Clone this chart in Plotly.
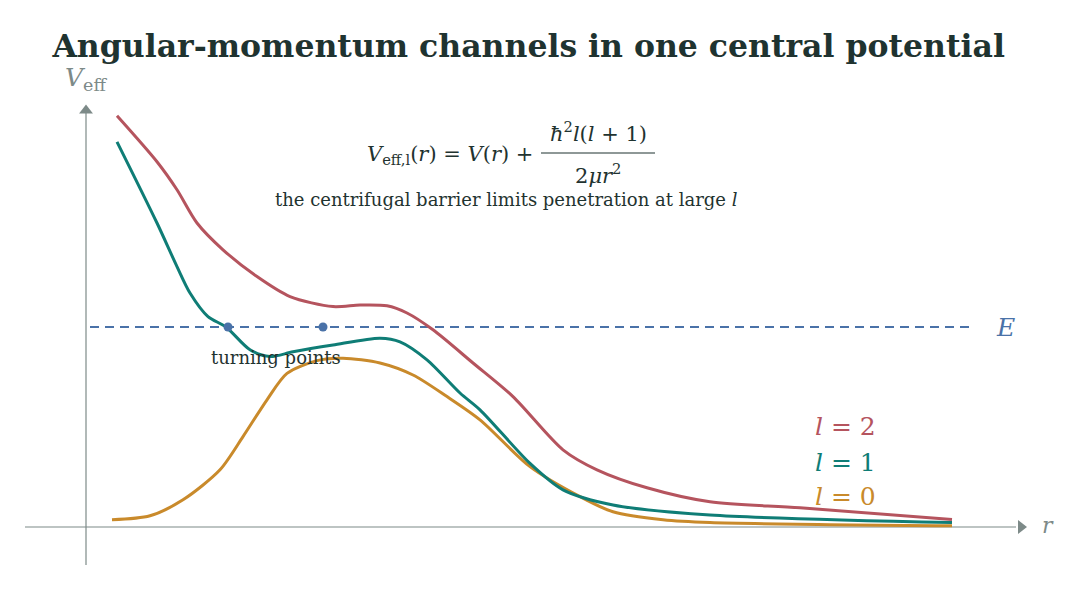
import plotly.graph_objects as go

# ---------------- data ----------------
r_l2 = [0.31, 0.71, 0.91, 1.11, 1.37, 1.71, 2.04, 2.47, 2.74, 3.01, 3.21, 3.47, 3.87, 4.27, 4.77, 5.11, 5.61, 6.24, 7.14, 8.66]
V_l2 = [10.28, 9.13, 8.43, 7.60, 6.93, 6.26, 5.76, 5.51, 5.55, 5.53, 5.35, 4.93, 4.10, 3.26, 1.93, 1.43, 0.98, 0.63, 0.48, 0.19]

r_l1 = [0.31, 0.71, 0.91, 1.04, 1.22, 1.40, 1.64, 1.84, 2.07, 2.47, 2.94, 3.14, 3.41, 3.74, 3.94, 4.44, 4.77, 5.27, 6.24, 8.66]
V_l1 = [9.63, 7.60, 6.51, 5.85, 5.26, 5.00, 4.43, 4.26, 4.38, 4.55, 4.72, 4.63, 4.18, 3.35, 2.93, 1.59, 0.93, 0.55, 0.30, 0.11]

r_l0 = [0.26, 0.64, 0.97, 1.34, 1.57, 1.81, 2.01, 2.31, 2.57, 2.94, 3.27, 3.61, 3.94, 4.44, 4.94, 5.27, 5.77, 6.24, 8.66]
V_l0 = [0.18, 0.28, 0.68, 1.43, 2.26, 3.18, 3.84, 4.16, 4.22, 4.10, 3.80, 3.26, 2.68, 1.51, 0.76, 0.38, 0.18, 0.11, 0.03]

E_level = 5.0
E_r = [0.04, 8.89]
turning_r = [1.42, 2.37]
turning_V = [5.0, 5.0]

labels = ["<i>l</i> = 2", "<i>l</i> = 1", "<i>l</i> = 0"]

# ---------------- style ----------------
RED = "#b5545e"
TEAL = "#0f7d76"
ORANGE = "#c98a2b"
BLUE = "#4a72a8"
GRAY = "#7d8a88"
DARK = "#1f3330"
FONT = "DejaVu Serif"

fig = go.Figure()

# axes (lines + arrowheads)
fig.add_trace(go.Scatter(x=[-0.61, 9.30], y=[0, 0], mode="lines",
                         line=dict(color=GRAY, width=1.2), hoverinfo="skip", showlegend=False))
fig.add_trace(go.Scatter(x=[0, 0], y=[-0.95, 10.45], mode="lines",
                         line=dict(color=GRAY, width=1.2), hoverinfo="skip", showlegend=False))
fig.add_trace(go.Scatter(x=[9.35], y=[0], mode="markers",
                         marker=dict(symbol="triangle-right", size=12, color=GRAY),
                         hoverinfo="skip", showlegend=False))
fig.add_trace(go.Scatter(x=[0], y=[10.41], mode="markers",
                         marker=dict(symbol="triangle-up", size=12, color=GRAY),
                         hoverinfo="skip", showlegend=False))

# energy level
fig.add_trace(go.Scatter(x=E_r, y=[E_level, E_level], mode="lines",
                         line=dict(color=BLUE, width=1.8, dash="9px,6px"),
                         hoverinfo="skip", showlegend=False))

# curves
for rr, vv, col in [(r_l0, V_l0, ORANGE), (r_l1, V_l1, TEAL), (r_l2, V_l2, RED)]:
    fig.add_trace(go.Scatter(x=rr, y=vv, mode="lines",
                             line=dict(color=col, width=3, shape="spline", smoothing=0.8),
                             showlegend=False))

# turning points
fig.add_trace(go.Scatter(x=turning_r, y=turning_V, mode="markers",
                         marker=dict(color=BLUE, size=9), showlegend=False))

ann = []
def txt(x, y, s, size, color, xanchor="center", yanchor="middle"):
    ann.append(dict(x=x, y=y, xref="x", yref="y", text=s, showarrow=False,
                    font=dict(family=FONT, size=size, color=color),
                    xanchor=xanchor, yanchor=yanchor))

txt(9.19, E_level, "<i>E</i>", 25, BLUE)
txt(1.90, 4.25, "turning points", 18, DARK)
for lab, v, col in zip(labels, [2.525, 1.625, 0.775], [RED, TEAL, ORANGE]):
    txt(7.27, v, lab, 25, col, xanchor="left")

txt(0.0, 11.2, "<i>V</i><sub>eff</sub>", 25, GRAY)
txt(9.62, 0.05, "<i>r</i>", 22, GRAY)

# formula
txt(4.49, 9.3, "<i>V</i><sub>eff,l</sub>(<i>r</i>) = <i>V</i>(<i>r</i>) +", 21, DARK, xanchor="right")
txt(5.12, 9.87, "<i>ħ</i><sup>2</sup><i>l</i>(<i>l</i> + 1)", 21, DARK)
txt(5.12, 8.83, "2<i>μr</i><sup>2</sup>", 21, DARK)
txt(4.20, 8.2, "the centrifugal barrier limits penetration at large <i>l</i>", 18, DARK)

fig.add_shape(type="line", x0=4.55, x1=5.69, y0=9.35, y1=9.35, xref="x", yref="y",
              line=dict(color=DARK, width=1.2))

fig.update_layout(
    width=1090, height=592,
    margin=dict(l=0, r=0, t=0, b=0),
    paper_bgcolor="white", plot_bgcolor="white",
    annotations=ann,
    title=dict(text="<b>Angular-momentum channels in one central potential</b>",
               x=0.485, xanchor="center", y=0.922, yanchor="middle",
               font=dict(family=FONT, size=31.5, color=DARK)),
    xaxis=dict(range=[-0.86, 10.04], visible=False, fixedrange=True),
    yaxis=dict(range=[-1.625, 13.175], visible=False, fixedrange=True),
)

fig.write_html("out.html")
